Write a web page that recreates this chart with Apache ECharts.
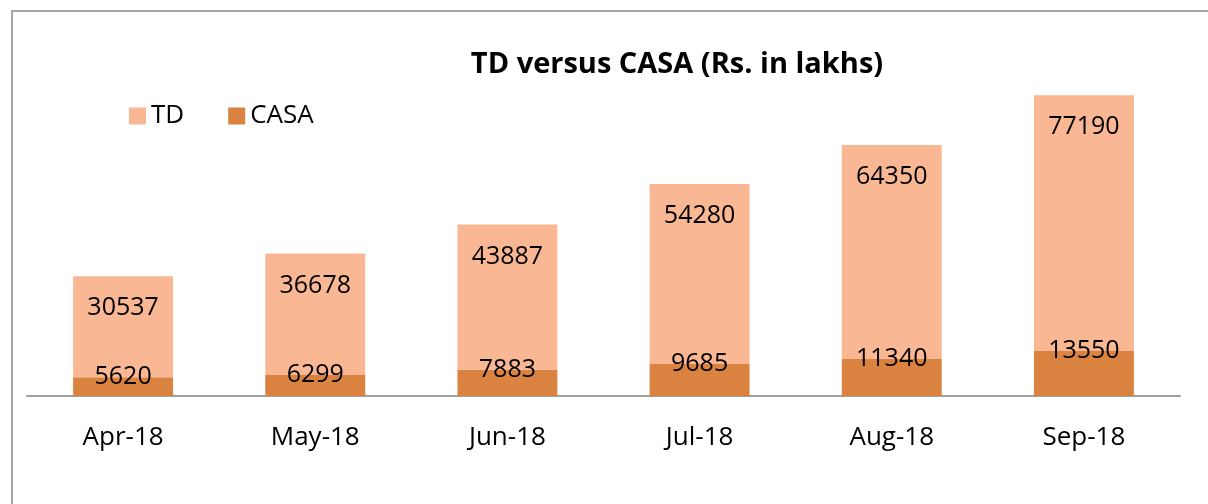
<!DOCTYPE html>
<html>
<head>
<meta charset="utf-8">
<script src="https://cdn.jsdelivr.net/npm/echarts@6/dist/echarts.min.js"></script>
<style>
  html, body { margin: 0; padding: 0; background: #fff; }
  #chart { width: 1208px; height: 504px; }
</style>
</head>
<body>
<div id="chart"></div>
<script>
const months = ['Apr-18', 'May-18', 'Jun-18', 'Jul-18', 'Aug-18', 'Sep-18']
const casa = [5620, 6299, 7883, 9685, 11340, 13550]
const td = [30537, 36678, 43887, 54280, 64350, 77190]

const font = 'Open Sans'
const chart = echarts.init(document.getElementById('chart'))

chart.setOption({
  backgroundColor: '#fff',
  animation: false,
  textStyle: { fontFamily: font },
  graphic: [
    {
      type: 'rect',
      shape: { x: 12, y: 11, width: 1400, height: 700 },
      style: { fill: 'none', stroke: '#8a8a8a', lineWidth: 1.5 },
      silent: true
    }
  ],
  title: {
    text: 'TD versus CASA (Rs. in lakhs)',
    left: 672,
    textAlign: 'center',
    top: 45,
    textStyle: { fontFamily: font, fontSize: 29, fontWeight: 'bold', color: '#000' }
  },
  legend: {
    left: 124,
    top: 98,
    itemWidth: 17,
    itemHeight: 17,
    itemGap: 44,
    icon: 'rect',
    data: ['TD', 'CASA'],
    textStyle: { fontFamily: font, fontSize: 26, color: '#000' }
  },
  grid: { left: 27, right: 28, top: 38, bottom: 108 },
  xAxis: {
    type: 'category',
    data: months,
    axisLine: { lineStyle: { color: '#a0a0a0', width: 2 } },
    axisTick: { show: false },
    axisLabel: { color: '#000', fontSize: 26, margin: 29, fontFamily: font }
  },
  yAxis: {
    type: 'value',
    min: 0,
    max: 108000,
    show: false,
    splitLine: { show: false }
  },
  series: [
    {
      name: 'CASA',
      type: 'bar',
      stack: 'total',
      data: casa,
      barWidth: '52%',
      itemStyle: { color: '#DA8340' },
      label: {
        show: true,
        position: ['50%', 0],
        align: 'center',
        verticalAlign: 'middle',
        color: '#000',
        fontSize: 25,
        fontFamily: font
      }
    },
    {
      name: 'TD',
      type: 'bar',
      stack: 'total',
      data: td,
      barWidth: '52%',
      itemStyle: { color: '#F9B794' },
      label: {
        show: true,
        position: ['50%', 32],
        align: 'center',
        verticalAlign: 'middle',
        color: '#000',
        fontSize: 25,
        fontFamily: font
      }
    }
  ]
})
</script>
</body>
</html>
